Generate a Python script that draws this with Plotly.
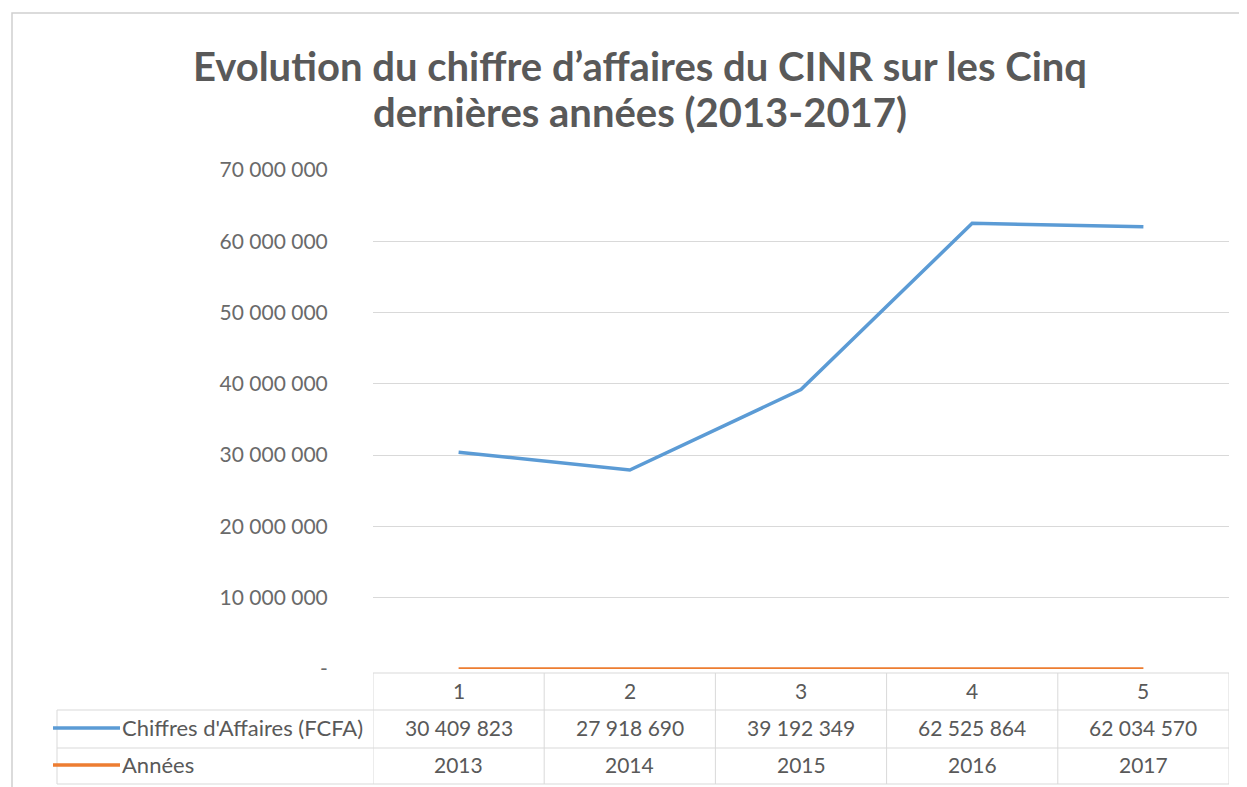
import plotly.graph_objects as go

# the page body has an 8px margin: figure starts at (8, 8) on screen
FW, FH = 1239, 779
OFF = 8

categories = ["1", "2", "3", "4", "5"]
chiffres = [30409823, 27918690, 39192349, 62525864, 62034570]
annees = [2013, 2014, 2015, 2016, 2017]
serie_names = ["Chiffres d'Affaires (FCFA)", "Années"]
tick_vals = [0, 10000000, 20000000, 30000000, 40000000, 50000000, 60000000, 70000000]
tick_text = ["-", "10 000 000", "20 000 000", "30 000 000", "40 000 000",
             "50 000 000", "60 000 000", "70 000 000"]

BLUE = "#5B9BD5"
ORANGE = "#ED7D31"
GREY = "#595959"
GRID = "#D9D9D9"
FONT = "Lato"


def px(x):
    # screen pixel -> paper fraction
    return (x - OFF) / FW


def py(y):
    return 1 - (y - OFF) / FH


def fmt(v):
    return f"{v:,}".replace(",", " ")


fig = go.Figure()
fig.add_trace(go.Scatter(x=categories, y=chiffres, mode="lines", name=serie_names[0],
                         line=dict(color=BLUE, width=3.5)))
fig.add_trace(go.Scatter(x=categories, y=annees, mode="lines", name=serie_names[1],
                         line=dict(color=ORANGE, width=3.5)))

plot_left, plot_right = 373, 1229
row_top, row1, row2, row3 = 673, 710, 748, 784
tbl_left = 57

shapes = []
line_style = dict(color=GRID, width=1)
shapes.append(dict(type="line", xref="paper", yref="paper", x0=px(plot_left), x1=px(plot_right),
                   y0=py(row_top), y1=py(row_top), line=line_style))
for yy in (row1, row2, row3):
    shapes.append(dict(type="line", xref="paper", yref="paper", x0=px(tbl_left), x1=px(plot_right),
                       y0=py(yy), y1=py(yy), line=line_style))
for i in range(len(categories) + 1):
    shapes.append(dict(type="line", xref="x", yref="paper", x0=i - 0.5, x1=i - 0.5,
                       y0=py(row_top), y1=py(row3), line=line_style))
shapes.append(dict(type="line", xref="paper", yref="paper", x0=px(tbl_left), x1=px(tbl_left),
                   y0=py(row1), y1=py(row3), line=line_style))
# legend keys in the table
for yy, col in ((728, BLUE), (765, ORANGE)):
    shapes.append(dict(type="line", xref="paper", yref="paper", x0=px(53), x1=px(120),
                       y0=py(yy), y1=py(yy), line=dict(color=col, width=3.5)))
# chart border
shapes.append(dict(type="rect", xref="paper", yref="paper", x0=px(12), x1=px(1245),
                   y0=py(13), y1=-0.05, line=dict(color="#D0D0D0", width=1.5)))

annotations = []
tfont = dict(family=FONT, size=21, color=GREY)
for i, (c, v, a) in enumerate(zip(categories, chiffres, annees)):
    for txt, yy in ((c, 690), (fmt(v), 727), (str(a), 764)):
        annotations.append(dict(x=i, xref="x", y=py(yy), yref="paper", text=txt, showarrow=False,
                                xanchor="center", yanchor="middle", font=tfont))
for name, yy in zip(serie_names, (727, 764)):
    annotations.append(dict(x=px(120), xref="paper", y=py(yy), yref="paper", text=name, showarrow=False,
                            xanchor="left", yanchor="middle", font=dict(family=FONT, size=22, color=GREY)))

title_txt = ("<span style='font-size:40px'>Evolution du chiffre d’affaires du CINR sur les Cinq</span><br>"
             "<span style='font-size:40px'>dernières années (2013-2017)</span>")

fig.update_layout(
    width=FW, height=FH,
    margin=dict(l=0, r=0, t=0, b=0, autoexpand=False),
    paper_bgcolor="white", plot_bgcolor="white",
    showlegend=False,
    title=dict(text=title_txt, x=px(640), xanchor="center", y=py(81), yanchor="middle",
               font=dict(family=FONT, size=35, color=GREY, weight="bold")),
    xaxis=dict(domain=[px(plot_left), px(plot_right)], type="category", range=[-0.5, 4.5],
               showticklabels=False, showgrid=False, zeroline=False, showline=False, ticks=""),
    yaxis=dict(domain=[py(669), py(170)], range=[0, 70000000], tickvals=tick_vals, ticktext=tick_text,
               showgrid=True, gridcolor=GRID, gridwidth=1, zeroline=False, showline=False,
               ticks="outside", ticklen=40, tickcolor="rgba(0,0,0,0)",
               tickfont=dict(family=FONT, size=21, color="#6a6a6a")),
    shapes=shapes,
    annotations=annotations,
)

fig.write_html("out.html")
